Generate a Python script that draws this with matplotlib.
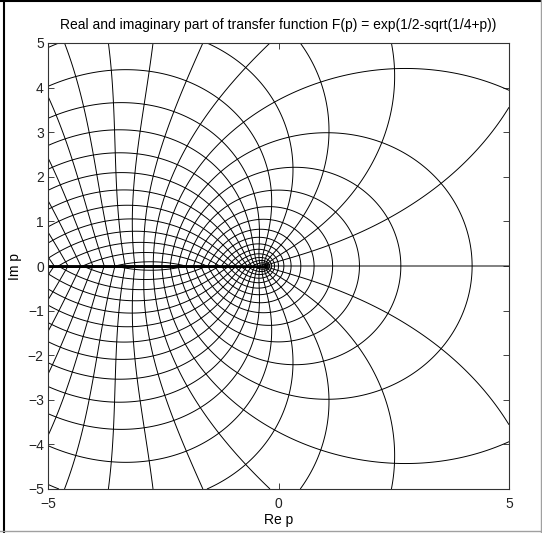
import numpy as np
import matplotlib.pyplot as plt
from matplotlib.lines import Line2D

# %% Grid in the complex p-plane
re_lim = (-5, 5)
im_lim = (-5, 5)
n_pts = 301

x_ticks = [-5, 0, 5]
y_ticks = [-5, -4, -3, -2, -1, 0, 1, 2, 3, 4, 5]

# contour levels for Re F and Im F (step 0.1)
re_levels = np.round(np.arange(-16, 17) * 0.1, 1)
im_levels = np.round(np.arange(-16, 17) * 0.1, 1)

x = np.linspace(*re_lim, n_pts)
y = np.linspace(*im_lim, n_pts)
y[np.abs(y) < 1e-12] = 0.0  # keep the real-axis row on the upper side of the cut
X, Y = np.meshgrid(x, y)
P = X.astype(complex)
P.imag = Y

# %% Transfer function
F = np.exp(0.5 - np.sqrt(0.25 + P))

# %% Plot
plt.rcParams['font.family'] = ['Liberation Sans', 'DejaVu Sans']
fig = plt.figure(figsize=(5.42, 5.33), dpi=100)
ax = fig.add_axes([48 / 542, 1 - 489 / 533, 461 / 542, 446 / 533])

ax.contour(X, Y, F.real, levels=re_levels, colors='k', linewidths=0.7,
           linestyles='solid')
ax.contour(X, Y, F.imag, levels=im_levels, colors='k', linewidths=0.7,
           linestyles='solid')

ax.set_xlim(re_lim)
ax.set_ylim(im_lim)
ax.set_xticks(x_ticks)
ax.set_yticks(y_ticks)
ax.tick_params(direction='in', length=4, width=0.6, top=True, right=True,
               labelsize=10, colors='#222222', pad=3)
ax.tick_params(axis='x', pad=6)
for s in ax.spines.values():
    s.set_linewidth(0.8)
    s.set_color('#333333')

ax.set_title('Real and imaginary part of transfer function F(p) = exp(1/2-sqrt(1/4+p))',
             fontsize=10, pad=10)
ax.set_xlabel('Re p', fontsize=10, labelpad=1)
ax.set_ylabel('Im p', fontsize=10, labelpad=4)

# window frame
fig.add_artist(Line2D([4 / 542, 4 / 542], [0, 1], color='k', lw=1.5))
fig.add_artist(Line2D([0, 1], [1 - 1 / 533, 1 - 1 / 533], color='k', lw=1.5))
fig.add_artist(Line2D([541 / 542, 541 / 542], [0, 1], color='#a0a0a0', lw=1))
fig.add_artist(Line2D([0, 1], [2 / 533, 2 / 533], color='#a0a0a0', lw=1))

fig.savefig('out.png', dpi=100)
